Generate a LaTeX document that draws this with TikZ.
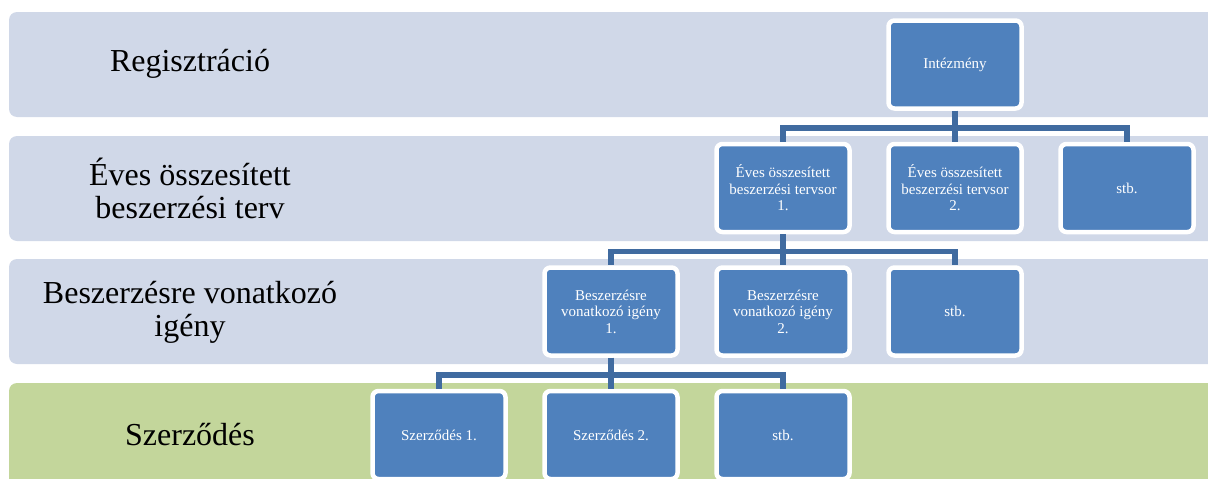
\documentclass[tikz,border=0pt]{standalone}
\usepackage{fontspec}
\setmainfont{Liberation Serif}
\usetikzlibrary{positioning}
\definecolor{bandblue}{RGB}{208,216,232}
\definecolor{bandgreen}{RGB}{195,214,155}
\definecolor{boxblue}{RGB}{79,129,189}
\definecolor{linkblue}{RGB}{64,107,160}

\begin{document}
\begin{tikzpicture}[x=1pt,y=-1pt,on grid,node distance=123.5pt and 172pt]
				\tikzstyle{band}=[rounded corners=8pt]
				\tikzstyle{tier}=[font=\fontsize{32}{33}\selectfont,align=center]
				\tikzstyle{box}=[draw=white,line width=4.5pt,fill=boxblue,rounded corners=6pt,minimum width=133pt,minimum height=88pt,text=white,align=center,font=\fontsize{15}{16.5}\selectfont]
				\tikzstyle{link}=[draw=linkblue,line width=5.5pt]
				\useasboundingbox (0,0) rectangle (1208,479);
				\clip (0,0) rectangle (1208,479);
				%Bands
				\fill[band,bandblue] (9,12) rectangle (1225,117);
				\fill[band,bandblue] (9,136) rectangle (1225,241);
				\fill[band,bandblue] (9,259) rectangle (1225,364);
				\fill[band,bandgreen] (9,383) rectangle (1225,500);
				%Tier labels
				\node[tier](treg) at (190,64){Regisztráció};
				\node[tier](tterv) at (190,188){Éves összesített\\beszerzési terv};
				\node[tier](tigeny) at (190,312){Beszerzésre vonatkozó\\igény};
				\node[tier](tszerz) at (190,435){Szerződés};
				%First Row
				\node[box](int) at (955,64.5){Intézmény};
				%Second Row
				\node[box](ev1)[below left = of int]{Éves összesített\\beszerzési tervsor\\1.};
				\node[box](ev2)[right = of ev1]{Éves összesített\\beszerzési tervsor\\2.};
				\node[box](evstb)[right = of ev2]{stb.};
				%Third Row
				\node[box](ig1)[below left = of ev1]{Beszerzésre\\vonatkozó igény\\1.};
				\node[box](ig2)[right = of ig1]{Beszerzésre\\vonatkozó igény\\2.};
				\node[box](igstb)[right = of ig2]{stb.};
				%Fourth Row
				\node[box](sz1)[below left = of ig1]{Szerződés 1.};
				\node[box](sz2)[right = of sz1]{Szerződés 2.};
				\node[box](szstb)[right = of sz2]{stb.};
				%Links
				\draw[link] (int.south) -- ++(0,17) -| (ev1.north);
				\draw[link] (int.south) -- ++(0,17) -| (evstb.north);
				\draw[link] (int.south) -- (ev2.north);
				\draw[link] (ev1.south) -- ++(0,17) -| (ig1.north);
				\draw[link] (ev1.south) -- ++(0,17) -| (igstb.north);
				\draw[link] (ev1.south) -- (ig2.north);
				\draw[link] (ig1.south) -- ++(0,17) -| (sz1.north);
				\draw[link] (ig1.south) -- ++(0,17) -| (szstb.north);
				\draw[link] (ig1.south) -- (sz2.north);
\end{tikzpicture}
\end{document}
